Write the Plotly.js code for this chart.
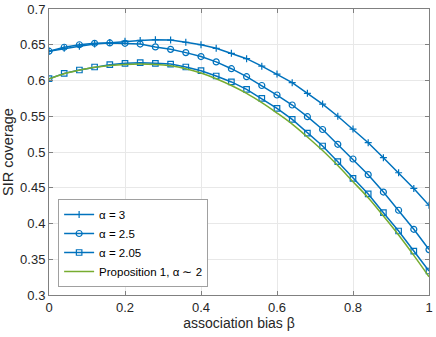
<!DOCTYPE html>
<html>
<head>
<meta charset="utf-8">
<script src="https://cdn.plot.ly/plotly-3.0.1.min.js"></script>
<style>html,body{margin:0;padding:0;background:#fff;}#chart{width:436px;height:337px;}</style>
</head>
<body>
<div id="chart"></div>
<script>
const xBias = [0, 0.04, 0.08, 0.12, 0.16, 0.2, 0.24, 0.28, 0.32, 0.36, 0.4, 0.44, 0.48, 0.52, 0.56, 0.6, 0.64, 0.68, 0.72, 0.76, 0.8, 0.84, 0.88, 0.92, 0.96, 1.0];
const alpha3 = [0.641, 0.645, 0.648, 0.651, 0.653, 0.655, 0.656, 0.657, 0.6565, 0.6535, 0.650, 0.645, 0.638, 0.6305, 0.620, 0.609, 0.597, 0.582, 0.567, 0.550, 0.532, 0.513, 0.492, 0.471, 0.449, 0.4255];
const alpha25 = [0.641, 0.6465, 0.650, 0.652, 0.6525, 0.652, 0.651, 0.647, 0.6436, 0.639, 0.6335, 0.626, 0.6165, 0.6053, 0.593, 0.5797, 0.5657, 0.5494, 0.5315, 0.5108, 0.4902, 0.4683, 0.444, 0.4185, 0.3919, 0.3635];
const alpha205 = [0.6025, 0.610, 0.6147, 0.6189, 0.6221, 0.624, 0.625, 0.624, 0.623, 0.6189, 0.6137, 0.6063, 0.598, 0.5877, 0.575, 0.5611, 0.5457, 0.5265, 0.5084, 0.4865, 0.4632, 0.4413, 0.4151, 0.3895, 0.3615, 0.3336];
const prop1 = [0.602, 0.6095, 0.6145, 0.6185, 0.621, 0.6225, 0.623, 0.6225, 0.6205, 0.6165, 0.6105, 0.6025, 0.593, 0.582, 0.569, 0.5545, 0.539, 0.521, 0.502, 0.481, 0.4585, 0.436, 0.4105, 0.384, 0.3555, 0.3256];
const names = ['α = 3', 'α = 2.5', 'α = 2.05', 'Proposition 1, α ∼ 2'];
const xTicks = [0, 0.2, 0.4, 0.6, 0.8, 1];
const yTicks = [0.3, 0.35, 0.4, 0.45, 0.5, 0.55, 0.6, 0.65, 0.7];

const blue = '#0072BD', green = '#77AC30';
const traces = [
  {x: xBias, y: alpha3, name: names[0], mode: 'lines+markers', line: {color: blue, width: 1.5},
   marker: {symbol: 'cross-thin-open', size: 5, color: blue, line: {color: blue, width: 1.2}}},
  {x: xBias, y: alpha25, name: names[1], mode: 'lines+markers', line: {color: blue, width: 1.5},
   marker: {symbol: 'circle-open', size: 6, color: blue, line: {color: blue, width: 1.2}}},
  {x: xBias, y: alpha205, name: names[2], mode: 'lines+markers', line: {color: blue, width: 1.5},
   marker: {symbol: 'square-open', size: 5.5, color: blue, line: {color: blue, width: 1.2}}},
  {x: xBias, y: prop1, name: names[3], mode: 'lines', line: {color: green, width: 1.5, shape: 'spline'}}
];
const axisCommon = {
  showline: true, mirror: 'ticks', linecolor: '#808080', linewidth: 1,
  ticks: 'inside', ticklen: 4, tickcolor: '#808080',
  showgrid: true, gridcolor: '#e8e8e8', gridwidth: 1, zeroline: false,
  tickfont: {family: 'Liberation Sans, Arial, sans-serif', size: 13, color: '#262626'}
};
const layout = {
  width: 436, height: 337,
  margin: {l: 49, r: 7, t: 9, b: 42},
  paper_bgcolor: '#fff', plot_bgcolor: '#fff',
  showlegend: true,
  xaxis: Object.assign({}, axisCommon, {range: [0, 1], tickvals: xTicks, ticktext: xTicks.map(String),
    title: {text: 'association bias β', font: {family: 'Liberation Sans, Arial, sans-serif', size: 14, color: '#262626'}, standoff: 4}}),
  yaxis: Object.assign({}, axisCommon, {range: [0.3, 0.7], tickvals: yTicks, ticktext: yTicks.map(String),
    title: {text: 'SIR coverage', font: {family: 'Liberation Sans, Arial, sans-serif', size: 14.5, color: '#262626'}, standoff: 7}}),
  legend: {x: 0.024, y: 0.028, xanchor: 'left', yanchor: 'bottom', bgcolor: '#fff', bordercolor: '#a0a0a0', borderwidth: 1,
    font: {family: 'Liberation Sans, Arial, sans-serif', size: 11.5, color: '#000'}, itemwidth: 30, tracegroupgap: 0}
};
Plotly.newPlot('chart', traces, layout, {staticPlot: true, displayModeBar: false});
</script>
</body>
</html>
